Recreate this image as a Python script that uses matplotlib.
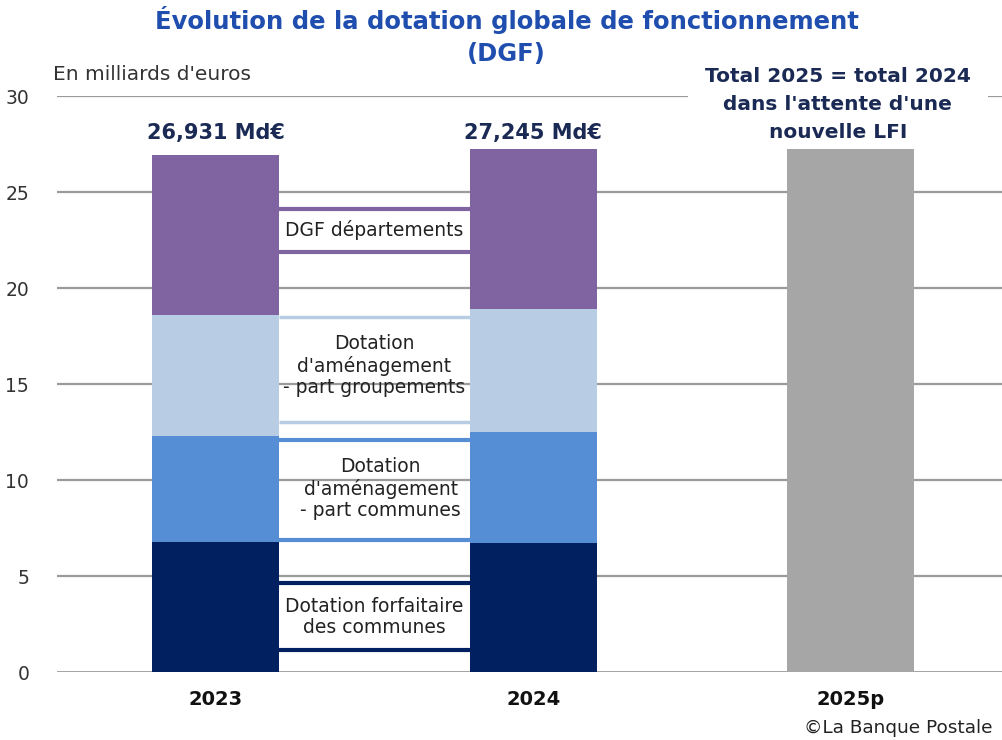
import numpy as np
import matplotlib.pyplot as plt

plt.rcParams['font.family'] = ['DejaVu Sans']

annees = ['2023', '2024', '2025p']
# valeurs en milliards d'euros
forfaitaire = [6.79, 6.70]
part_communes = [5.52, 5.82]
part_groupements = [6.28, 6.37]
dgf_dep = [8.341, 8.355]
totaux = [26.931, 27.245]
total_2025 = 27.245

# bornes des encadres de legende entre les barres
cadre_dep = [21.89, 24.11]
cadre_grp = [13.0, 18.51]
cadre_com = [6.875, 12.08]
cadre_forf = [1.15, 4.62]

c_navy = '#002060'
c_bleu = '#558ED5'
c_clair = '#B8CCE4'
c_violet = '#8064A2'
c_gris = '#A6A6A6'
c_texte = '#1B2A55'

fig = plt.figure(figsize=(10.03, 7.40), dpi=100)
ax = fig.add_axes([57/1003, 1-672/740, 1-57/1003, (672-96)/740])

x = np.arange(2)
w = 0.4
b1 = np.array(forfaitaire)
b2 = b1 + np.array(part_communes)
b3 = b2 + np.array(part_groupements)
ax.bar(x, forfaitaire, w, color=c_navy, zorder=2)
ax.bar(x, part_communes, w, bottom=b1, color=c_bleu, zorder=2)
ax.bar(x, part_groupements, w, bottom=b2, color=c_clair, zorder=2)
ax.bar(x, np.array(totaux) - b3, w, bottom=b3, color=c_violet, zorder=2)
ax.bar([2], [total_2025], w, color=c_gris, zorder=2)

# grille
for yv in range(0, 31, 5):
    ax.axhline(yv, color='#9A9A9A', lw=1.6 if yv > 0 else 2, zorder=0)

# encadres entre les barres
for bornes, col, lw in [(cadre_dep, c_violet, 3), (cadre_grp, c_clair, 2.5),
                        (cadre_com, c_bleu, 3), (cadre_forf, c_navy, 3)]:
    ax.hlines(bornes, 0.2, 0.8, colors=col, lw=lw, zorder=3)

fs_lab = 13.5
ax.text(0.5, np.mean(cadre_dep), 'DGF départements', ha='center', va='center',
        fontsize=fs_lab, color='#222222')
ax.text(0.5, 15.95, "Dotation\nd'aménagement\n- part groupements", ha='center',
        va='center', fontsize=fs_lab, color='#222222', linespacing=1.15)
ax.text(0.52, 9.55, "Dotation\nd'aménagement\n- part communes", ha='center',
        va='center', fontsize=fs_lab, color='#222222', linespacing=1.15)
ax.text(0.5, 2.85, 'Dotation forfaitaire\ndes communes', ha='center', va='center',
        fontsize=fs_lab, color='#222222', linespacing=1.15)

# valeurs au-dessus des barres
for xi, t in zip(x, totaux):
    ax.text(xi, 28.07, ('%.3f' % t).replace('.', ',') + ' Md€', ha='center',
            va='center', fontsize=15, fontweight='bold', color=c_texte)

# fond blanc sous le texte, mais derriere la barre grise
ax.text(1.96, 29.55, "Total 2025 = total 2024\ndans l'attente d'une\nnouvelle LFI",
        ha='center', va='center', fontsize=14.5, fontweight='bold', color=c_texte,
        linespacing=1.62, zorder=1,
        bbox=dict(facecolor='white', edgecolor='none', pad=12))

ax.set_xlim(-0.5, 2.48)
ax.set_ylim(0, 30)
ax.set_xticks([0, 1, 2])
ax.set_xticklabels(annees, fontsize=14, fontweight='bold', color='#111111')
ax.set_yticks(range(0, 31, 5))
ax.tick_params(axis='y', labelsize=13.5, labelcolor='#333333', length=0, pad=20)
ax.tick_params(axis='x', length=0, pad=13)
for s in ax.spines.values():
    s.set_visible(False)
ax.patch.set_alpha(0)

fig.text(0.505, 1-36/740, 'Évolution de la dotation globale de fonctionnement\n(DGF)',
         ha='center', va='center', fontsize=17.5, fontweight='bold', color='#1F4EAF',
         linespacing=1.45)
fig.text(53/1003, 1-75/740, "En milliards d'euros", ha='left', va='center',
         fontsize=14.5, color='#333333')
fig.text(993/1003, 1-728/740, '©La Banque Postale', ha='right', va='center',
         fontsize=13.3, color='#222222')

fig.savefig('out.png', dpi=100)
